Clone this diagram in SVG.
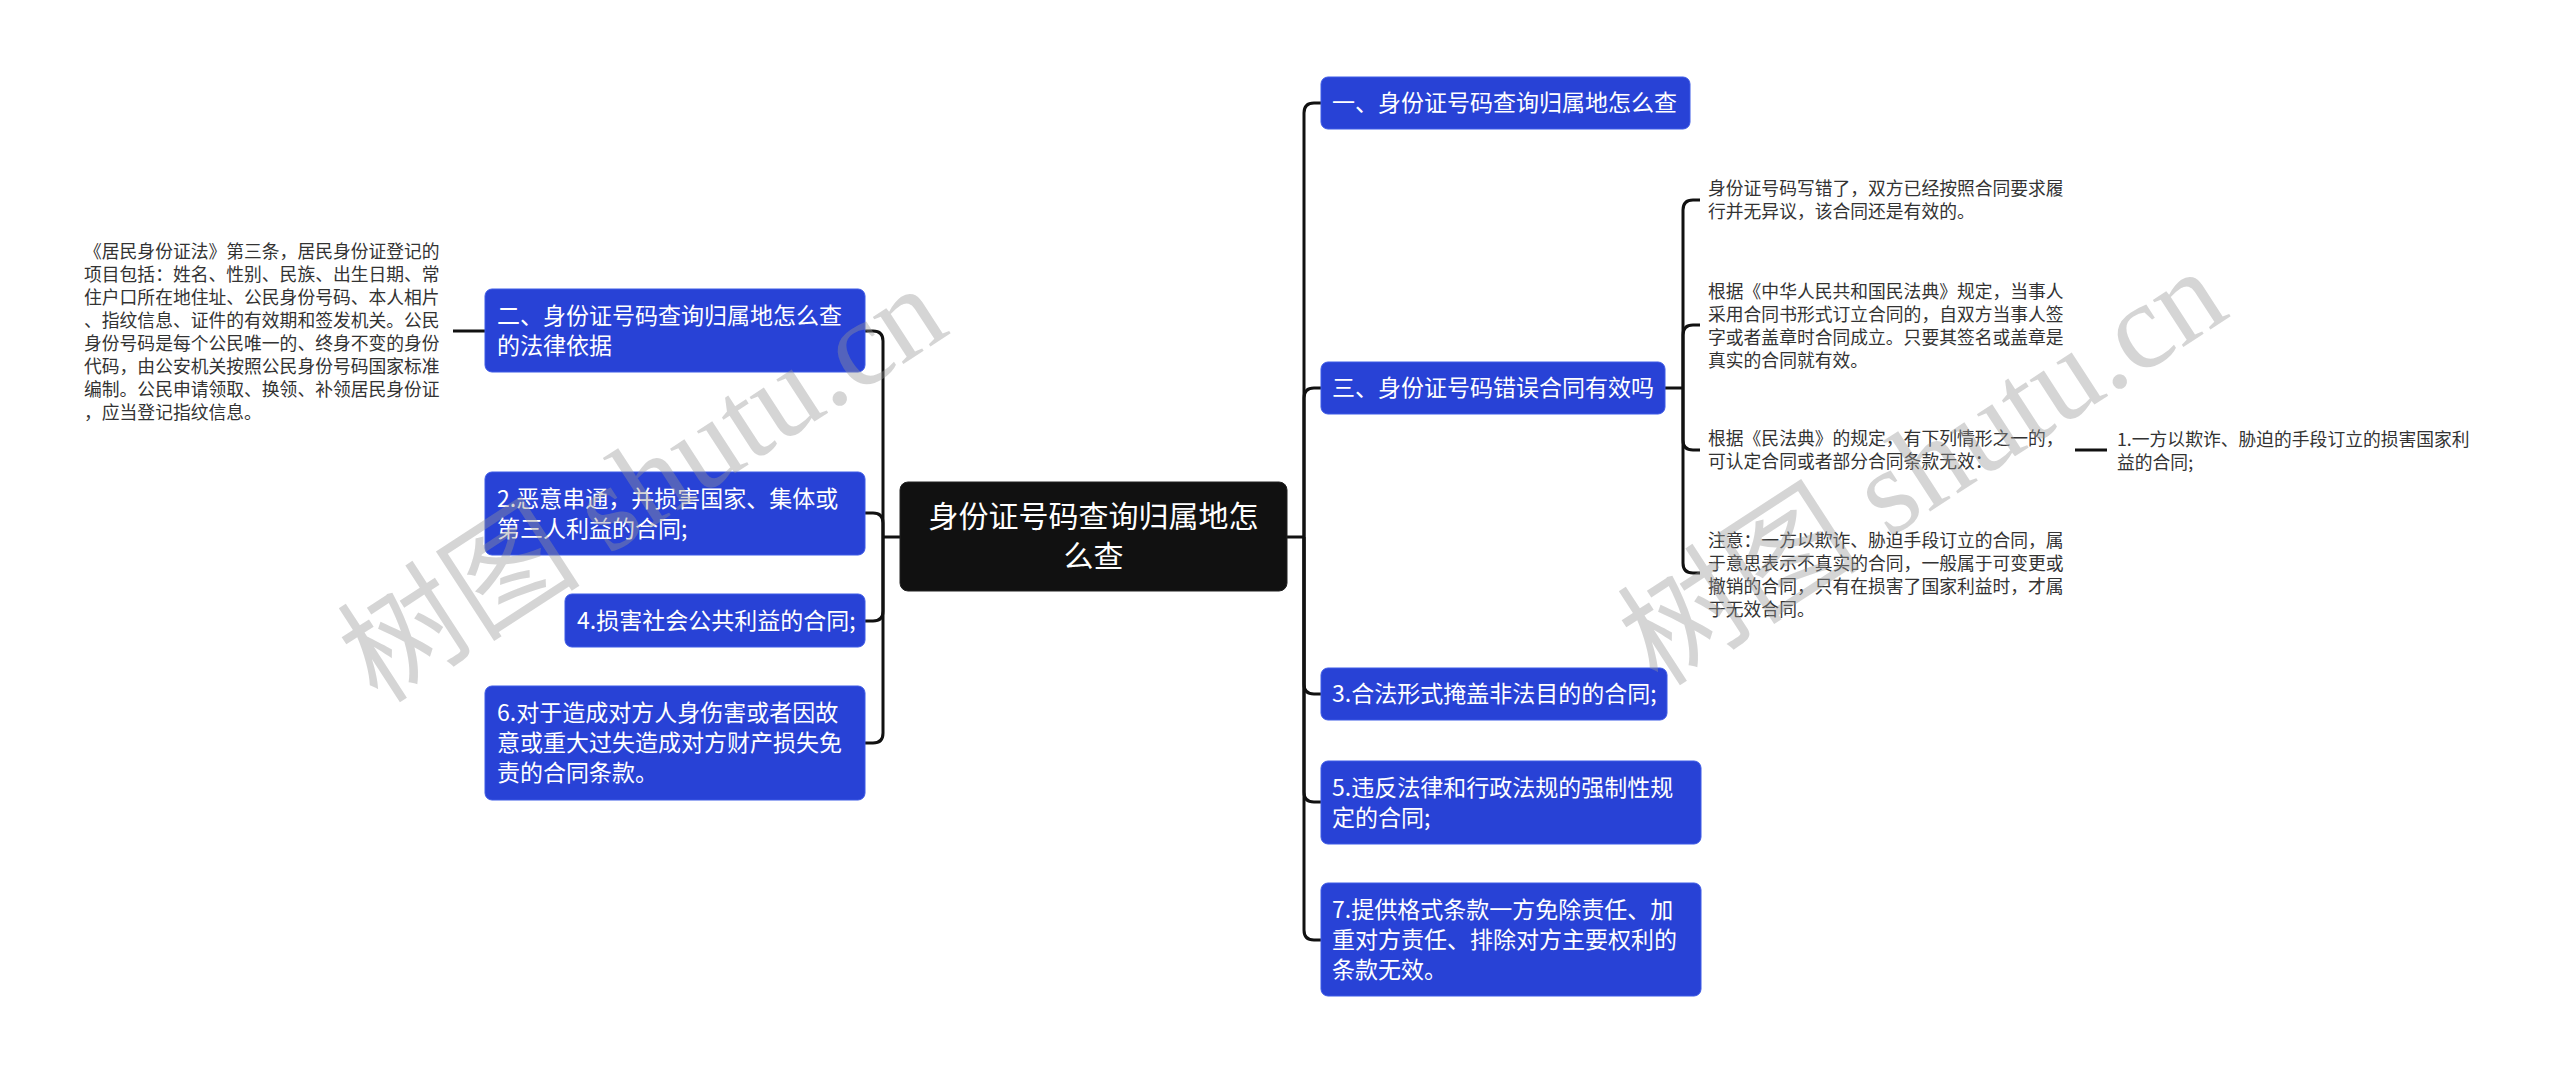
<svg xmlns="http://www.w3.org/2000/svg" width="2560" height="1075" viewBox="0 0 2560 1075">
<style>
.node rect{fill:#2842d6;stroke:#3d5ae6;stroke-width:1}
.node text{fill:#fff;font-family:"Noto Sans CJK SC","Noto Sans",sans-serif;font-size:23px}
.root rect{fill:#111;stroke:#222;stroke-width:1}
.root text{fill:#fff;font-family:"Noto Sans CJK SC","Noto Sans",sans-serif;font-size:30px;text-anchor:middle}
.leaf text{fill:#333;font-family:"Noto Sans CJK SC","Noto Sans",sans-serif;font-size:17.8px}
.conn path{fill:none;stroke:#111;stroke-width:3}
.wm{fill:#969696;fill-opacity:0.4;font-family:"Liberation Serif","Noto Sans CJK SC",serif;font-size:122px}
</style>
<rect width="2560" height="1075" fill="#fff"/>
<g id="connectors" class="conn">
<path d="M900 537 H883"/>
<path d="M883 537 V341 Q883 331 873 331 H865"/>
<path d="M883 537 V523 Q883 513 873 513 H865"/>
<path d="M883 537 V611 Q883 621 873 621 H865"/>
<path d="M883 537 V733 Q883 743 873 743 H865"/>
<path d="M453 331 H485"/>
<path d="M1287 537 H1304"/>
<path d="M1304 537 V113 Q1304 103 1314 103 H1321"/>
<path d="M1304 537 V398 Q1304 388 1314 388 H1321"/>
<path d="M1304 537 V684 Q1304 694 1314 694 H1321"/>
<path d="M1304 537 V792 Q1304 802 1314 802 H1321"/>
<path d="M1304 537 V930 Q1304 940 1314 940 H1321"/>
<path d="M1665 388 H1683"/>
<path d="M1683 388 V210 Q1683 200 1693 200 H1700"/>
<path d="M1683 388 V335 Q1683 325 1693 325 H1700"/>
<path d="M1683 388 V440 Q1683 450 1693 450 H1700"/>
<path d="M1683 388 V563 Q1683 573 1693 573 H1700"/>
<path d="M2075 450 H2107"/>
</g>
<g id="root" class="root">
<rect x="900" y="482" width="387" height="109" rx="8"/>
<text x="1093.5" y="527">身份证号码查询归属地怎</text>
<text x="1093.5" y="567">么查</text>
</g>
<g id="n-left-1" class="node">
<rect x="485" y="289" width="380" height="83" rx="7"/>
<text x="497" y="323.5">二、身份证号码查询归属地怎么查</text>
<text x="497" y="353.5">的法律依据</text>
</g>
<g id="n-left-2" class="node">
<rect x="485" y="472" width="380" height="83" rx="7"/>
<text x="497" y="506.5">2.恶意串通，并损害国家、集体或</text>
<text x="497" y="536.5">第三人利益的合同;</text>
</g>
<g id="n-left-3" class="node">
<rect x="565" y="594" width="300" height="53" rx="7"/>
<text x="577" y="628.5">4.损害社会公共利益的合同;</text>
</g>
<g id="n-left-4" class="node">
<rect x="485" y="686" width="380" height="114" rx="7"/>
<text x="497" y="721">6.对于造成对方人身伤害或者因故</text>
<text x="497" y="751">意或重大过失造成对方财产损失免</text>
<text x="497" y="781">责的合同条款。</text>
</g>
<g id="leaf-left" class="leaf">
<text x="84" y="257.5">《居民身份证法》第三条，居民身份证登记的</text>
<text x="84" y="280.6">项目包括：姓名、性别、民族、出生日期、常</text>
<text x="84" y="303.7">住户口所在地住址、公民身份号码、本人相片</text>
<text x="84" y="326.8">、指纹信息、证件的有效期和签发机关。公民</text>
<text x="84" y="349.9">身份号码是每个公民唯一的、终身不变的身份</text>
<text x="84" y="373">代码，由公安机关按照公民身份号码国家标准</text>
<text x="84" y="396.1">编制。公民申请领取、换领、补领居民身份证</text>
<text x="84" y="419.2">，应当登记指纹信息。</text>
</g>
<g id="n-right-1" class="node">
<rect x="1321" y="77" width="369" height="52" rx="7"/>
<text x="1332" y="111">一、身份证号码查询归属地怎么查</text>
</g>
<g id="n-right-2" class="node">
<rect x="1321" y="362" width="344" height="52" rx="7"/>
<text x="1332" y="396">三、身份证号码错误合同有效吗</text>
</g>
<g id="n-right-3" class="node">
<rect x="1321" y="668" width="346" height="52" rx="7"/>
<text x="1332" y="702">3.合法形式掩盖非法目的的合同;</text>
</g>
<g id="n-right-4" class="node">
<rect x="1321" y="761" width="380" height="83" rx="7"/>
<text x="1332" y="795.5">5.违反法律和行政法规的强制性规</text>
<text x="1332" y="825.5">定的合同;</text>
</g>
<g id="n-right-5" class="node">
<rect x="1321" y="883" width="380" height="113" rx="7"/>
<text x="1332" y="917.5">7.提供格式条款一方免除责任、加</text>
<text x="1332" y="947.5">重对方责任、排除对方主要权利的</text>
<text x="1332" y="977.5">条款无效。</text>
</g>
<g id="leaf-a" class="leaf">
<text x="1708" y="194.5">身份证号码写错了，双方已经按照合同要求履</text>
<text x="1708" y="217.5">行并无异议，该合同还是有效的。</text>
</g>
<g id="leaf-b" class="leaf">
<text x="1708" y="297.5">根据《中华人民共和国民法典》规定，当事人</text>
<text x="1708" y="320.5">采用合同书形式订立合同的，自双方当事人签</text>
<text x="1708" y="343.5">字或者盖章时合同成立。只要其签名或盖章是</text>
<text x="1708" y="366.5">真实的合同就有效。</text>
</g>
<g id="leaf-c" class="leaf">
<text x="1708" y="444.5">根据《民法典》的规定，有下列情形之一的，</text>
<text x="1708" y="467.5">可认定合同或者部分合同条款无效：</text>
</g>
<g id="leaf-d" class="leaf">
<text x="1708" y="546.5">注意：一方以欺诈、胁迫手段订立的合同，属</text>
<text x="1708" y="569.5">于意思表示不真实的合同，一般属于可变更或</text>
<text x="1708" y="592.5">撤销的合同，只有在损害了国家利益时，才属</text>
<text x="1708" y="615.5">于无效合同。</text>
</g>
<g id="leaf-e" class="leaf">
<text x="2117" y="445.5">1.一方以欺诈、胁迫的手段订立的损害国家利</text>
<text x="2117" y="468.5">益的合同;</text>
</g>
<g id="watermark">
<text class="wm" x="378" y="705" transform="rotate(-33 378 705)">树图 shutu.cn</text>
<text class="wm" x="1658" y="688" transform="rotate(-33 1658 688)">树图 shutu.cn</text>
</g>
</svg>
